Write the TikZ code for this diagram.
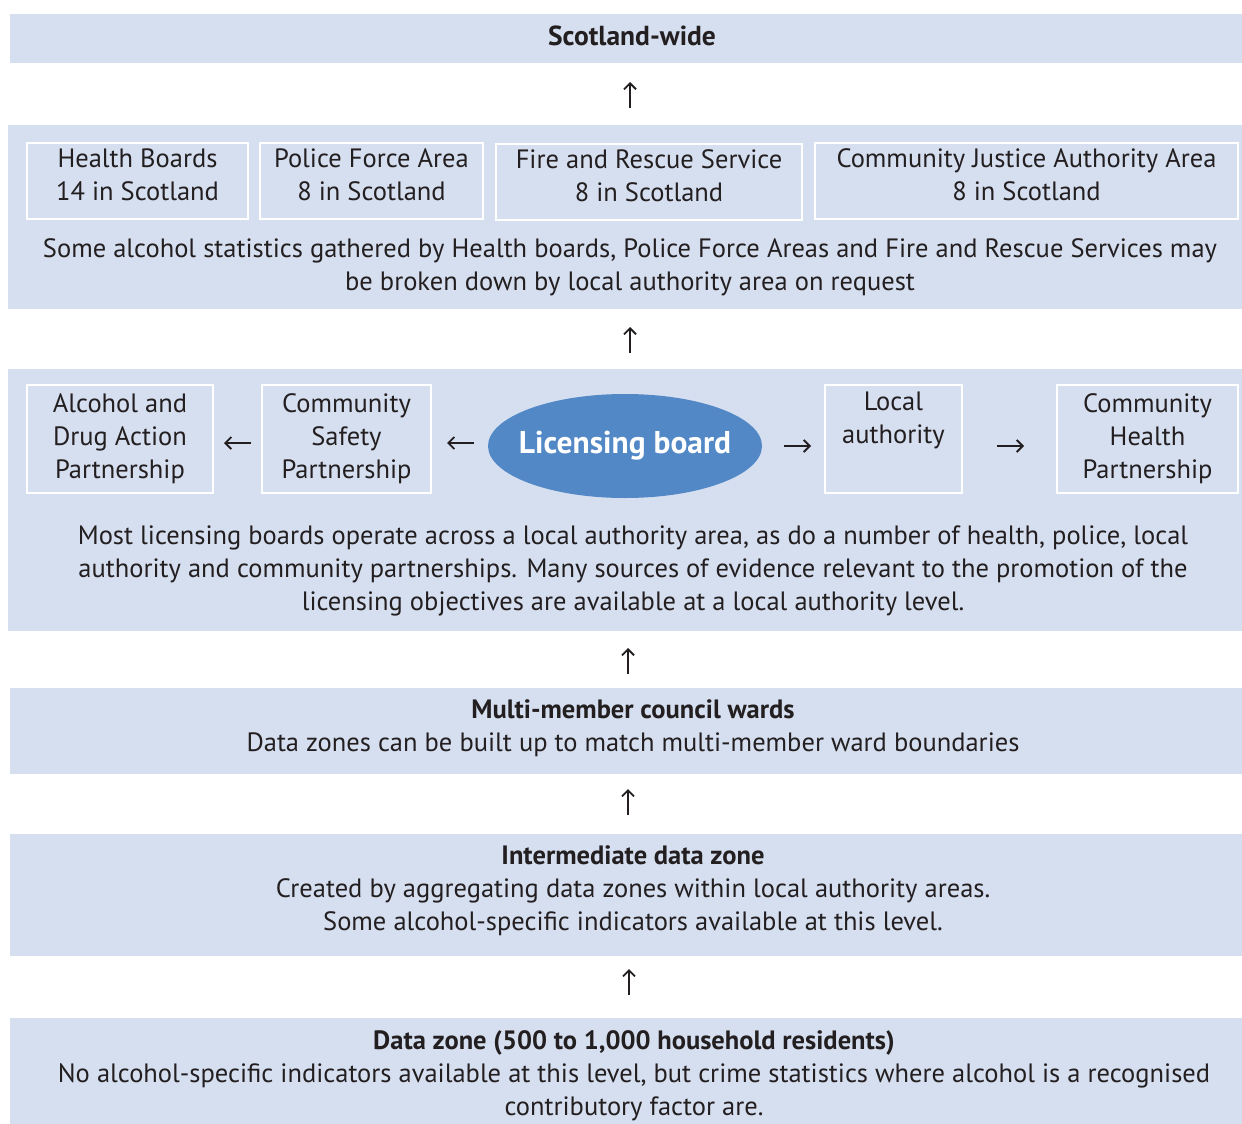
\documentclass[tikz,border=0pt]{standalone}
\usepackage{fontspec}
\setmainfont{PT Sans}
\usetikzlibrary{arrows.meta,shapes.geometric}
\definecolor{bandblue}{HTML}{D6DFF0}
\definecolor{boardblue}{HTML}{5288C6}
\definecolor{inkgrey}{HTML}{231F20}
\tikzset{
  band/.style={fill=bandblue, draw=none, inner sep=0pt},
  areabox/.style={draw=white, line width=2pt, fill=bandblue, align=center,
    text=inkgrey, inner sep=0pt, font=\fontsize{26.5}{33}\selectfont},
  liftbox/.style={areabox, text depth=12pt},
  txt/.style={align=center, text=inkgrey, inner sep=0pt,
    font=\fontsize{26.5}{33}\selectfont},
  linkarrow/.style={-{Straight Barb[length=6pt,width=12pt]}, line width=1.8pt, inkgrey}
}
\begin{document}
\begin{tikzpicture}[x=1pt,y=-1pt]
  \useasboundingbox (0,0) rectangle (1242,1124);
  % bands, top to bottom
  \node[band, minimum width=1232, minimum height=49]  (scot)    at (626,38.5) {};
  \node[band, minimum width=1234, minimum height=184] (regions) at (625,217) {};
  \node[band, minimum width=1234, minimum height=262] (local)   at (625,500) {};
  \node[band, minimum width=1232, minimum height=86]  (wards)   at (626,731) {};
  \node[band, minimum width=1232, minimum height=122] (inter)   at (626,895) {};
  \node[band, minimum width=1232, minimum height=106] (zone)    at (626,1071) {};
  % Scotland-wide
  \node[txt, font=\fontsize{27.5}{33}\selectfont\bfseries] (scottext) at (632,36) {Scotland-wide};
  % regional areas
  \node[liftbox, minimum width=221, minimum height=76] (health) at (137.5,181)
    {Health Boards\\14 in Scotland};
  \node[liftbox, minimum width=223, minimum height=76] (police) at (371.5,181)
    {Police Force Area\\8 in Scotland};
  \node[liftbox, minimum width=306, minimum height=76] (fire) at (649,182)
    {Fire and Rescue Service\\8 in Scotland};
  \node[liftbox, minimum width=423, minimum height=76] (justice) at (1026.5,181)
    {Community Justice Authority Area\\8 in Scotland};
  \node[txt] (regiontext) at (630,267.5)
    {Some alcohol statistics gathered by Health boards, Police Force Areas and Fire and Rescue Services may\\
     be broken down by local authority area on request};
  % local authority level
  \node[ellipse, fill=boardblue, minimum width=274, minimum height=104, inner sep=0pt] (board) at (625,446) {};
  \node[text=white, inner sep=0pt, font=\fontsize{31.5}{36}\selectfont\bfseries] (boardtext) at (board) {Licensing board};
  \node[areabox, minimum width=186, minimum height=108] (adap) at (120,439)
    {Alcohol and\\Drug Action\\Partnership};
  \node[areabox, minimum width=169, minimum height=108] (csp) at (346.5,439)
    {Community\\Safety\\Partnership};
  \node[areabox, minimum width=137, minimum height=108] (la) at (893.5,439)
    {Local\\authority\\\strut};
  \node[areabox, minimum width=181, minimum height=108] (chp) at (1147.5,439)
    {Community\\Health\\Partnership};
  \node[txt] (localtext) at (633,571)
    {Most licensing boards operate across a local authority area, as do a number of health, police, local\\
     authority and community partnerships. Many sources of evidence relevant to the promotion of the\\
     licensing objectives are available at a local authority level.};
  % wards
  \node[txt] (wardtext) at (633,728.5)
    {{\bfseries Multi-member council wards}\\
     Data zones can be built up to match multi-member ward boundaries};
  % intermediate zone
  \node[txt] (intertext) at (633,891)
    {{\bfseries Intermediate data zone}\\
     Created by aggregating data zones within local authority areas.\\
     Some alcohol-specific indicators available at this level.};
  % data zone
  \node[txt] (zonetext) at (634,1076)
    {{\bfseries Data zone (500 to 1,000 household residents)}\\
     No alcohol-specific indicators available at this level, but crime statistics where alcohol is a recognised\\
     contributory factor are.};
  % arrow ends
  \coordinate (up1s) at (630,108);  \coordinate (up1e) at (630,82);
  \coordinate (up2s) at (630,353);  \coordinate (up2e) at (630,327);
  \coordinate (up3s) at (628,674);  \coordinate (up3e) at (628,648);
  \coordinate (up4s) at (628,815);  \coordinate (up4e) at (628,789);
  \coordinate (up5s) at (629,995);  \coordinate (up5e) at (629,969);
  \coordinate (lt1s) at (251,443);  \coordinate (lt1e) at (224,443);
  \coordinate (lt2s) at (474,443);  \coordinate (lt2e) at (447,443);
  \coordinate (rt1s) at (784,446);  \coordinate (rt1e) at (811,446);
  \coordinate (rt2s) at (997,446);  \coordinate (rt2e) at (1024,446);
  \draw[linkarrow] (up1s) -- (up1e);
  \draw[linkarrow] (up2s) -- (up2e);
  \draw[linkarrow] (up3s) -- (up3e);
  \draw[linkarrow] (up4s) -- (up4e);
  \draw[linkarrow] (up5s) -- (up5e);
  \draw[linkarrow] (lt1s) -- (lt1e);
  \draw[linkarrow] (lt2s) -- (lt2e);
  \draw[linkarrow] (rt1s) -- (rt1e);
  \draw[linkarrow] (rt2s) -- (rt2e);
\end{tikzpicture}
\end{document}
